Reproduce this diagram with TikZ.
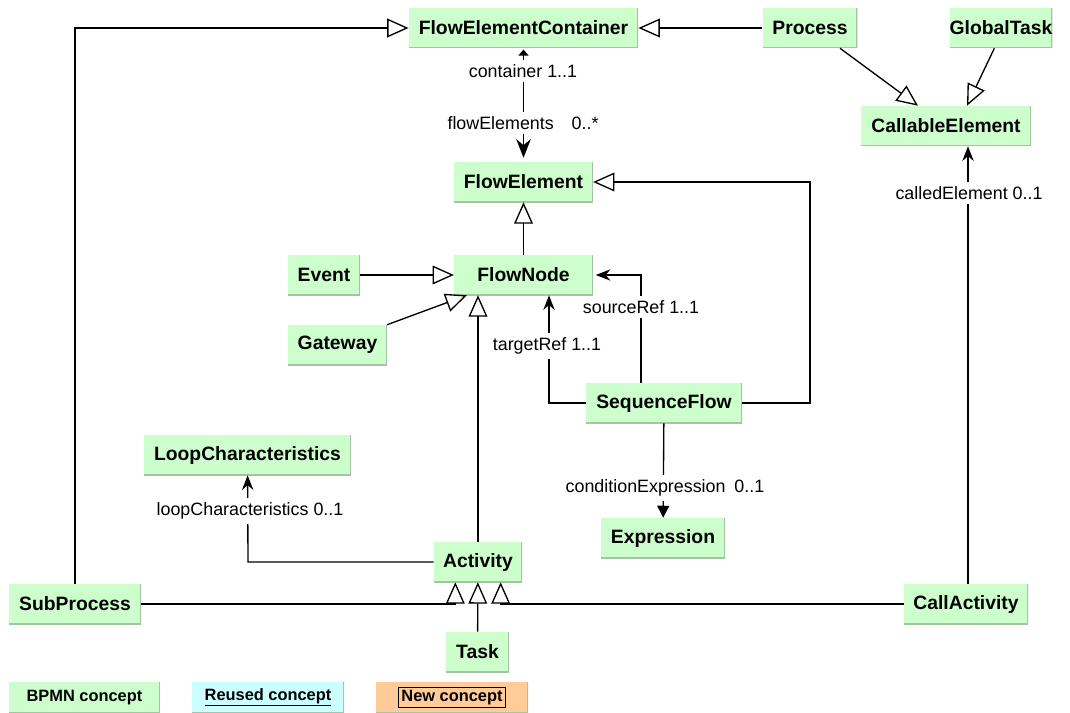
\documentclass[tikz,border=0pt]{standalone}
\usepackage{fontspec}
\setmainfont{Liberation Sans}
\usetikzlibrary{arrows.meta, positioning}

\definecolor{bpmngreen}{RGB}{204,255,204}
\definecolor{reusedcyan}{RGB}{204,255,255}
\definecolor{neworange}{RGB}{255,204,153}
\definecolor{boxedge}{RGB}{165,195,165}

\tikzset{
  cls/.style={fill=bpmngreen, minimum height=30pt, inner sep=0pt,
    font=\bfseries\fontsize{14.5}{16}\selectfont,
    path picture={\draw[boxedge, line width=1.6pt]
      (path picture bounding box.south west) -- (path picture bounding box.south east)
      -- (path picture bounding box.north east);}},
  lgd/.style={cls, minimum height=23.25pt, font=\bfseries\fontsize{12.3}{14}\selectfont},
  lbl/.style={fill=white, inner xsep=1pt, inner ysep=3.5pt, font=\fontsize{13.4}{15}\selectfont},
  gen/.style={line width=1pt, -{Triangle[open, length=16pt, width=14pt]}},
  nav/.style={line width=1pt, -{Stealth[length=11pt, width=8.5pt]}},
}

\begin{document}
\begin{tikzpicture}[x=0.75pt, y=-0.75pt]
\useasboundingbox (0,0) rectangle (1070,713);
\clip (0,0) rectangle (1070,713);
\node (FEC) [cls, minimum width=172pt] at (523.5,28) {FlowElementContainer};
\node (Proc) [cls, minimum width=71pt] at (810,28) {Process};
\node (GT) [cls, minimum width=75pt] at (1001,28) {GlobalTask};
\node (CE) [cls, minimum width=127.5pt] at (946,126) {CallableElement};
\node (FE) [cls, minimum width=104pt] at (523.5,182) {FlowElement};
\node (FN) [cls, minimum width=104pt] at (523.5,275) {FlowNode};
\node (Ev) [cls, minimum width=54pt] at (324,275) {Event};
\node (Gw) [cls, minimum width=74pt] at (337.5,345) {Gateway};
\node (SF) [cls, minimum width=117pt] at (664,403) {SequenceFlow};
\node (Ex) [cls, minimum width=93pt] at (663,538) {Expression};
\node (LC) [cls, minimum width=155pt] at (247.5,455) {LoopCharacteristics};
\node (Act) [cls, minimum width=66pt] at (478,562) {Activity};
\node (SP) [cls, minimum width=99pt] at (75,604) {SubProcess};
\node (CA) [cls, minimum width=93pt] at (966,604) {CallActivity};
\node (Task) [cls, minimum width=47pt] at (477.5,652) {Task};
%Legend:
\node (LgBpmn) [lgd, minimum width=113pt] at (84.5,697.5) {BPMN concept};
\node (LgReused) [lgd, minimum width=114pt, fill=reusedcyan] at (268,697.5) {\underline{Reused concept}};
\node (LgNew) [lgd, minimum width=114pt, fill=neworange] at (452,697.5)
  {\setlength{\fboxsep}{1.5pt}\setlength{\fboxrule}{1pt}\fbox{New concept}};
\coordinate (sfturn) at (810,403);
\coordinate (srcturn) at (641,275);
\coordinate (tgtturn) at (549,403);
\coordinate (loopturn) at (248,562);
%Generalisation:
\draw [gen] (SP.north) |- (FEC.west);
\draw [gen] (Proc.west) -- (FEC.east);
\draw [gen] ([xshift=22.5pt]Proc.south) -- ([xshift=-21pt]CE.north);
\draw [gen] ([xshift=-5pt]GT.south) -- ([xshift=15.75pt]CE.north);
\draw [gen] (FN) -- (FE);
\draw [gen] (Ev) -- (FN);
\draw [gen] (Gw.north east) -- ([xshift=9.75pt]FN.south west);
\draw [gen] (Act) -- (Act |- FN.south);
\draw [gen] (SF.east) -- (sfturn) |- (FE.east);
\draw [gen] (SP.east) -- ([xshift=-17pt]Act.south |- SP.east) -- ([xshift=-17pt]Act.south);
\draw [gen] (CA.west) -- ([xshift=17pt]Act.south |- CA.west) -- ([xshift=17pt]Act.south);
\draw [gen] (Task) -- (Act);
%Associations:
\draw [line width=1pt, shorten <=1pt, shorten >=3pt,
  {Triangle[length=4.5pt, width=7.5pt]}-{Stealth[length=14pt, width=11pt]}] (FEC) -- (FE);
\draw [nav, shorten >=2pt] (SF.north -| srcturn) -- (srcturn) -- (FN.east);
\draw [nav] (SF.west) -- (tgtturn) -- (tgtturn |- FN.south);
\draw [line width=1pt, -{Triangle[length=9pt, width=9pt]}] (SF) -- (Ex);
\draw [nav] (Act.west) -- (loopturn) -- (LC);
\draw [nav] ([xshift=1.5pt]CA.north) -- ([xshift=1.5pt]CA.north |- CE.south);
%Role labels:
\node [lbl] (lblCont) at (523,71) {container 1..1};
\node [lbl] (lblFlow) at (523,123) {flowElements\quad 0..*};
\node [lbl] (lblCalled) at (969,193) {calledElement 0..1};
\node [lbl] (lblSrc) at (641,307) {sourceRef 1..1};
\node [lbl] (lblTgt) at (547,346) {targetRef 1..1};
\node [lbl] (lblCond) at (665,488) {conditionExpression\enspace 0..1};
\node [lbl] (lblLoop) at (250,511) {loopCharacteristics 0..1};
\end{tikzpicture}
\end{document}
